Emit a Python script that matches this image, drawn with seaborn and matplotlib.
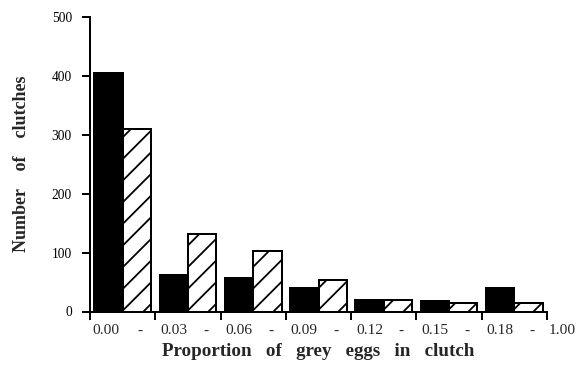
import numpy as np
import pandas as pd
import matplotlib
matplotlib.use("Agg")
import matplotlib.pyplot as plt
import matplotlib.transforms as mtransforms
import seaborn as sns

# data
bins = ["0.00-0.03", "0.03-0.06", "0.06-0.09", "0.09-0.12", "0.12-0.15", "0.15-0.18", "0.18-1.00"]
solid = [405, 62, 57, 40, 20, 17, 40]
hatched = [310, 132, 103, 53, 20, 14, 14]
edge_labels = ["0.00", "0.03", "0.06", "0.09", "0.12", "0.15", "0.18", "1.00"]
yticks = [0, 100, 200, 300, 400, 500]

DPI = 130


def pt(px):
    return px * 72 / DPI


df = pd.DataFrame({
    "bin": bins * 2,
    "count": solid + hatched,
    "group": ["solid"] * len(bins) + ["hatched"] * len(bins),
})

sns.set_style("ticks")
plt.rcParams["font.family"] = ["Liberation Serif", "DejaVu Serif"]
plt.rcParams["hatch.linewidth"] = pt(1.8)

fig = plt.figure(figsize=(583 / DPI, 371 / DPI), dpi=DPI)
ax = fig.add_axes([90 / 583, 1 - 311.5 / 371, (547 - 90) / 583, (311.5 - 17) / 371])

sns.barplot(data=df, x="bin", y="count", hue="group", palette=["black", "white"],
            edgecolor="black", linewidth=pt(2), width=0.87, saturation=1,
            legend=False, ax=ax)

for p in ax.containers[1]:
    p.set_hatch("//")

ax.set_xlim(-0.5, 6.5)
ax.set_ylim(0, 500)
ax.set_yticks(yticks)
ax.set_yticklabels([str(v) for v in yticks], fontsize=7.5)

# tick marks at the bin edges; numbers just right of each edge, dash inside the bin
edges = np.arange(-0.5, 7, 1)
ax.set_xticks(edges)
ax.set_xticklabels([""] * len(edges))
blend = mtransforms.blended_transform_factory(ax.transData, ax.transAxes)
for i, (e, lab) in enumerate(zip(edges, edge_labels)):
    dx = 2 if i in (0, len(edges) - 1) else 5
    off = mtransforms.ScaledTranslation(pt(dx) / 72, -pt(13) / 72, fig.dpi_scale_trans)
    ax.text(e, 0, lab, transform=blend + off, ha="left", va="top", fontsize=8.5)
    if i < len(edges) - 1:
        off = mtransforms.ScaledTranslation(0, -pt(13) / 72, fig.dpi_scale_trans)
        ax.text(e + 0.77, 0, "-", transform=blend + off, ha="center", va="top", fontsize=8.5)

ax.tick_params(axis="both", length=pt(8), width=pt(2), direction="out", colors="black")
ax.tick_params(axis="y", pad=pt(10))

for s in ["left", "bottom"]:
    ax.spines[s].set_linewidth(pt(2))
    ax.spines[s].set_color("black")
sns.despine(ax=ax)

ax.set_xlabel("Proportion   of   grey   eggs   in   clutch", fontsize=10.5, fontweight="bold", labelpad=pt(17))
ax.set_ylabel("Number    of    clutches", fontsize=10, fontweight="bold", labelpad=pt(22))

fig.savefig("out.png", dpi=DPI)
